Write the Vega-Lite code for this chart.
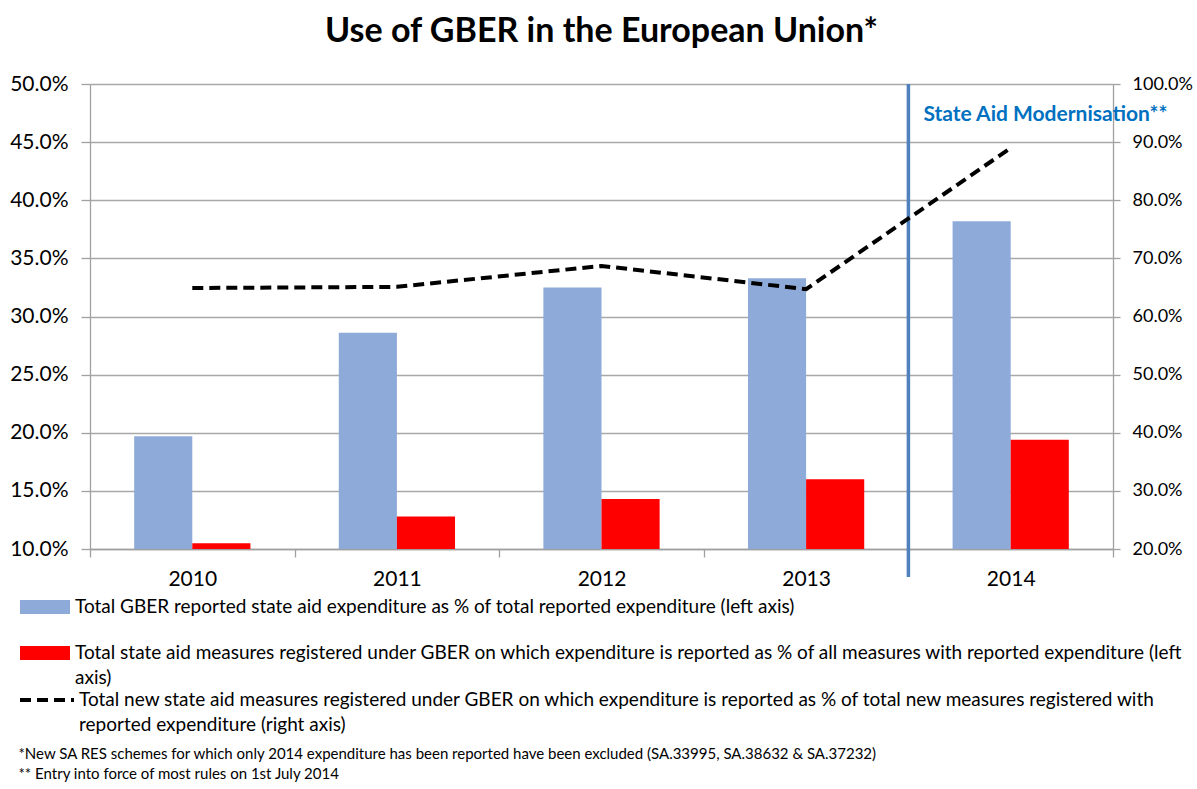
{
  "$schema": "https://vega.github.io/schema/vega-lite/v6.json",
  "width": 1023,
  "height": 465,
  "autosize": {"type": "none"},
  "padding": {"left": 90, "top": 84, "right": 84, "bottom": 240},
  "background": "white",
  "title": {
    "text": "Use of GBER in the European Union*",
    "font": "Lato",
    "fontSize": 34,
    "fontWeight": "bold",
    "color": "black",
    "anchor": "middle",
    "frame": "group",
    "offset": 24
  },
  "config": {
    "font": "Lato",
    "view": {"stroke": null},
    "style": {"guide-label": {"lineHeight": 25}},
    "axis": {
      "labelFont": "Lato",
      "labelColor": "black",
      "domainColor": "#a0a0a0",
      "domainWidth": 1.3,
      "tickColor": "#a0a0a0",
      "tickWidth": 1.3,
      "gridColor": "#a8a8a8",
      "gridWidth": 1.3
    },
    "legend": {"labelFont": "Lato", "labelColor": "black"}
  },
  "datasets": {
    "bars": [
      {"year": "2010", "series": "Total GBER reported state aid expenditure as % of total reported expenditure (left axis)", "value": 0.197},
      {"year": "2011", "series": "Total GBER reported state aid expenditure as % of total reported expenditure (left axis)", "value": 0.286},
      {"year": "2012", "series": "Total GBER reported state aid expenditure as % of total reported expenditure (left axis)", "value": 0.325},
      {"year": "2013", "series": "Total GBER reported state aid expenditure as % of total reported expenditure (left axis)", "value": 0.333},
      {"year": "2014", "series": "Total GBER reported state aid expenditure as % of total reported expenditure (left axis)", "value": 0.382},
      {"year": "2010", "series": "Total state aid measures registered under GBER on which expenditure is reported as % of all measures with reported expenditure (left axis)", "value": 0.105},
      {"year": "2011", "series": "Total state aid measures registered under GBER on which expenditure is reported as % of all measures with reported expenditure (left axis)", "value": 0.128},
      {"year": "2012", "series": "Total state aid measures registered under GBER on which expenditure is reported as % of all measures with reported expenditure (left axis)", "value": 0.143},
      {"year": "2013", "series": "Total state aid measures registered under GBER on which expenditure is reported as % of all measures with reported expenditure (left axis)", "value": 0.160},
      {"year": "2014", "series": "Total state aid measures registered under GBER on which expenditure is reported as % of all measures with reported expenditure (left axis)", "value": 0.194}
    ],
    "line": [
      {"year": "2010", "series": "Total new state aid measures registered under GBER on which expenditure is reported as % of total new measures registered with reported expenditure (right axis)", "value": 0.649},
      {"year": "2011", "series": "Total new state aid measures registered under GBER on which expenditure is reported as % of total new measures registered with reported expenditure (right axis)", "value": 0.651},
      {"year": "2012", "series": "Total new state aid measures registered under GBER on which expenditure is reported as % of total new measures registered with reported expenditure (right axis)", "value": 0.687},
      {"year": "2013", "series": "Total new state aid measures registered under GBER on which expenditure is reported as % of total new measures registered with reported expenditure (right axis)", "value": 0.647},
      {"year": "2014", "series": "Total new state aid measures registered under GBER on which expenditure is reported as % of total new measures registered with reported expenditure (right axis)", "value": 0.890}
    ],
    "notes": [
      {"year": "2014", "label": "State Aid Modernisation**"}
    ]
  },
  "layer": [
    {
      "layer": [
        {
          "data": {"name": "bars"},
          "mark": {"type": "bar"},
          "encoding": {
            "x": {
              "field": "year",
              "type": "ordinal",
              "scale": {"paddingInner": 0, "paddingOuter": 0},
              "axis": {
                "title": [
                  "*New SA RES schemes for which only 2014 expenditure has been reported have been excluded (SA.33995, SA.38632 & SA.37232)",
                  "** Entry into force of most rules on 1st July 2014"
                ],
                "titleFont": "Lato",
                "titleFontSize": 15,
                "titleFontWeight": "normal",
                "titleColor": "black",
                "titleAlign": "left",
                "titleAnchor": "start",
                "titleBaseline": "top",
                "titleLineHeight": 20,
                "titleX": -72,
                "titleY": 197,
                "labelAngle": 0,
                "labelFontSize": 21,
                "labelPadding": 11,
                "tickBand": "extent",
                "tickSize": 8,
                "grid": false
              }
            },
            "xOffset": {
              "field": "series",
              "type": "nominal",
              "scale": {"paddingInner": 0, "paddingOuter": 0.76}
            },
            "y": {
              "field": "value",
              "type": "quantitative",
              "scale": {"domain": [0.1, 0.5], "nice": false, "zero": false},
              "axis": {
                "title": null,
                "format": ".1%",
                "values": [0.1, 0.15, 0.2, 0.25, 0.3, 0.35, 0.4, 0.45, 0.5],
                "labelFontSize": 21,
                "labelPadding": 13,
                "tickSize": 9,
                "grid": true
              }
            },
            "y2": {"datum": 0.1},
            "color": {
              "field": "series",
              "type": "nominal",
              "scale": {"range": ["#8eaad8", "#ff0000"]},
              "legend": {
                "orient": "none",
                "legendX": -70,
                "legendY": 498,
                "title": null,
                "symbolType": "M-1,-0.28H1V0.28H-1Z",
                "symbolSize": 2500,
                "symbolStrokeWidth": 0,
                "symbolOpacity": 1,
                "labelFontSize": 19,
                "labelLimit": 1200,
                "labelOffset": 5,
                "rowPadding": 11,
                "labelExpr": "indexof(datum.label, '(left axis)') > 100 ? [replace(datum.label, ' axis)', ''), 'axis)'] : datum.label"
              }
            }
          }
        },
        {
          "data": {"name": "notes"},
          "mark": {"type": "rule", "color": "#4f81bd", "strokeWidth": 3.5},
          "encoding": {
            "x": {"field": "year", "type": "ordinal", "bandPosition": 0},
            "y": {"datum": 0.5},
            "y2": {"datum": 0.076}
          }
        },
        {
          "data": {"name": "notes"},
          "mark": {"type": "text", "color": "#0070c0", "fontWeight": "bold", "fontSize": 21, "align": "left", "baseline": "middle", "dx": 15},
          "encoding": {
            "x": {"field": "year", "type": "ordinal", "bandPosition": 0},
            "y": {"datum": 0.473},
            "text": {"field": "label"}
          }
        }
      ]
    },
    {
      "data": {"name": "line"},
      "mark": {"type": "line", "color": "black", "strokeWidth": 4, "strokeCap": "butt"},
      "encoding": {
        "x": {"field": "year", "type": "ordinal"},
        "y": {
          "field": "value",
          "type": "quantitative",
          "scale": {"domain": [0.2, 1.0], "nice": false, "zero": false},
          "axis": {
            "orient": "right",
            "title": null,
            "format": ".1%",
            "values": [0.2, 0.3, 0.4, 0.5, 0.6, 0.7, 0.8, 0.9, 1.0],
            "labelFontSize": 18,
            "labelPadding": 12,
            "tickSize": 7,
            "grid": false
          }
        },
        "strokeDash": {
          "field": "series",
          "type": "nominal",
          "scale": {"range": [[11, 6]]},
          "legend": {
            "orient": "none",
            "legendX": -72,
            "legendY": 587,
            "title": null,
            "symbolType": "stroke",
            "symbolSize": 2916,
            "symbolStrokeWidth": 4,
            "symbolStrokeColor": "black",
            "symbolDash": [10, 4],
            "labelFontSize": 19,
            "labelLimit": 1200,
            "labelOffset": 3,
            "labelExpr": "[replace(datum.label, ' reported expenditure (right axis)', ''), 'reported expenditure (right axis)']"
          }
        }
      }
    }
  ],
  "resolve": {"scale": {"y": "independent"}}
}
